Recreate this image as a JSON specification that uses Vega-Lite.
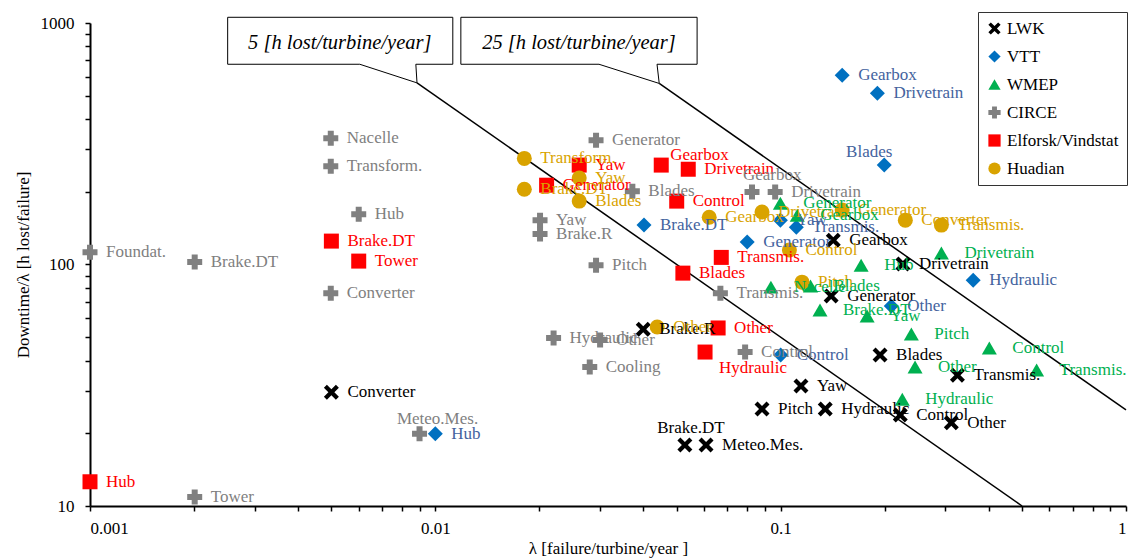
{
  "$schema": "https://vega.github.io/schema/vega-lite/v6.json",
  "width": 1036,
  "height": 483,
  "autosize": {"type": "none"},
  "padding": {"left": 90, "top": 23, "right": 21, "bottom": 52},
  "background": "white",
  "config": {
    "view": {"stroke": null},
    "font": "Liberation Serif",
    "axis": {
      "labelFont": "Liberation Serif", "labelFontSize": 17, "labelColor": "black",
      "titleFont": "Liberation Serif", "titleFontSize": 17, "titleFontWeight": "normal", "titleColor": "black",
      "domainColor": "black", "domainWidth": 2, "tickColor": "black", "tickWidth": 1.5, "tickSize": 5, "grid": false
    }
  },
  "datasets": {
    "pts": [
      {"s": "LWK", "c": "Converter", "x": 0.005, "y": 29.6},
      {"s": "LWK", "c": "Brake.R", "x": 0.040, "y": 54},
      {"s": "LWK", "c": "Brake.DT", "x": 0.0528, "y": 17.9},
      {"s": "LWK", "c": "Meteo.Mes.", "x": 0.0608, "y": 17.9},
      {"s": "LWK", "c": "Pitch", "x": 0.0883, "y": 25.2},
      {"s": "LWK", "c": "Yaw", "x": 0.1145, "y": 31.4},
      {"s": "LWK", "c": "Hydraulic", "x": 0.1346, "y": 25.2},
      {"s": "LWK", "c": "Control", "x": 0.222, "y": 23.8},
      {"s": "LWK", "c": "Other", "x": 0.312, "y": 22.1},
      {"s": "LWK", "c": "Transmis.", "x": 0.325, "y": 34.8},
      {"s": "LWK", "c": "Blades", "x": 0.194, "y": 42.2},
      {"s": "LWK", "c": "Generator", "x": 0.140, "y": 74},
      {"s": "LWK", "c": "Gearbox", "x": 0.142, "y": 126},
      {"s": "LWK", "c": "Drivetrain", "x": 0.226, "y": 100.4},
      {"s": "VTT", "c": "Gearbox", "x": 0.1507, "y": 608},
      {"s": "VTT", "c": "Drivetrain", "x": 0.1906, "y": 512},
      {"s": "VTT", "c": "Blades", "x": 0.1995, "y": 258},
      {"s": "VTT", "c": "Brake.DT", "x": 0.0402, "y": 145.6},
      {"s": "VTT", "c": "Generator", "x": 0.080, "y": 123.8},
      {"s": "VTT", "c": "Yaw", "x": 0.0998, "y": 152.6},
      {"s": "VTT", "c": "Transmis.", "x": 0.111, "y": 142.8},
      {"s": "VTT", "c": "Other", "x": 0.209, "y": 67.3},
      {"s": "VTT", "c": "Control", "x": 0.1, "y": 42.2},
      {"s": "VTT", "c": "Hydraulic", "x": 0.361, "y": 86.1},
      {"s": "VTT", "c": "Hub", "x": 0.01, "y": 19.9},
      {"s": "WMEP", "c": "Generator", "x": 0.0998, "y": 179.5},
      {"s": "WMEP", "c": "Gearbox", "x": 0.1117, "y": 160},
      {"s": "WMEP", "c": "Drivetrain", "x": 0.292, "y": 111.5},
      {"s": "WMEP", "c": "Hub", "x": 0.171, "y": 99.4},
      {"s": "WMEP", "c": "Nacelle", "x": 0.0937, "y": 80.6},
      {"s": "WMEP", "c": "Blades", "x": 0.122, "y": 81.4},
      {"s": "WMEP", "c": "Brake.DT", "x": 0.130, "y": 64.8},
      {"s": "WMEP", "c": "Yaw", "x": 0.178, "y": 61.2},
      {"s": "WMEP", "c": "Pitch", "x": 0.239, "y": 51.5},
      {"s": "WMEP", "c": "Control", "x": 0.402, "y": 45.1},
      {"s": "WMEP", "c": "Other", "x": 0.245, "y": 37.6},
      {"s": "WMEP", "c": "Transmis.", "x": 0.551, "y": 36.6},
      {"s": "WMEP", "c": "Hydraulic", "x": 0.225, "y": 27.7},
      {"s": "CIRCE", "c": "Foundat.", "x": 0.001, "y": 112.5},
      {"s": "CIRCE", "c": "Brake.DT", "x": 0.00201, "y": 102.3},
      {"s": "CIRCE", "c": "Nacelle", "x": 0.00498, "y": 333},
      {"s": "CIRCE", "c": "Transform.", "x": 0.00498, "y": 255},
      {"s": "CIRCE", "c": "Hub", "x": 0.006, "y": 161.6},
      {"s": "CIRCE", "c": "Converter", "x": 0.00498, "y": 76},
      {"s": "CIRCE", "c": "Tower", "x": 0.00201, "y": 10.9},
      {"s": "CIRCE", "c": "Meteo.Mes.", "x": 0.009, "y": 19.9},
      {"s": "CIRCE", "c": "Generator", "x": 0.0292, "y": 327},
      {"s": "CIRCE", "c": "Yaw", "x": 0.0201, "y": 152.6},
      {"s": "CIRCE", "c": "Brake.R", "x": 0.0201, "y": 133.6},
      {"s": "CIRCE", "c": "Pitch", "x": 0.0292, "y": 99.4},
      {"s": "CIRCE", "c": "Blades", "x": 0.0372, "y": 201},
      {"s": "CIRCE", "c": "Gearbox", "x": 0.0826, "y": 199.5},
      {"s": "CIRCE", "c": "Drivetrain", "x": 0.0964, "y": 199.5},
      {"s": "CIRCE", "c": "Transmis.", "x": 0.0669, "y": 76},
      {"s": "CIRCE", "c": "Control", "x": 0.0789, "y": 43.4},
      {"s": "CIRCE", "c": "Hydraulic", "x": 0.022, "y": 49.6},
      {"s": "CIRCE", "c": "Other", "x": 0.030, "y": 48.7},
      {"s": "CIRCE", "c": "Cooling", "x": 0.028, "y": 37.6},
      {"s": "Elforsk/Vindstat", "c": "Hub", "x": 0.001, "y": 12.6},
      {"s": "Elforsk/Vindstat", "c": "Brake.DT", "x": 0.005, "y": 125},
      {"s": "Elforsk/Vindstat", "c": "Tower", "x": 0.006, "y": 103.3},
      {"s": "Elforsk/Vindstat", "c": "Yaw", "x": 0.0261, "y": 258},
      {"s": "Elforsk/Vindstat", "c": "Generator", "x": 0.021, "y": 213},
      {"s": "Elforsk/Vindstat", "c": "Gearbox", "x": 0.0451, "y": 258},
      {"s": "Elforsk/Vindstat", "c": "Drivetrain", "x": 0.054, "y": 248},
      {"s": "Elforsk/Vindstat", "c": "Control", "x": 0.050, "y": 183},
      {"s": "Elforsk/Vindstat", "c": "Transmis.", "x": 0.0673, "y": 107},
      {"s": "Elforsk/Vindstat", "c": "Blades", "x": 0.0521, "y": 92.1},
      {"s": "Elforsk/Vindstat", "c": "Other", "x": 0.0659, "y": 54.6},
      {"s": "Elforsk/Vindstat", "c": "Hydraulic", "x": 0.0604, "y": 43.4},
      {"s": "Huadian", "c": "Transform.", "x": 0.0181, "y": 275},
      {"s": "Huadian", "c": "Brake.DT", "x": 0.0181, "y": 205},
      {"s": "Huadian", "c": "Yaw", "x": 0.0261, "y": 228},
      {"s": "Huadian", "c": "Blades", "x": 0.0261, "y": 183},
      {"s": "Huadian", "c": "Gearbox", "x": 0.0621, "y": 157},
      {"s": "Huadian", "c": "Drivetrain", "x": 0.0883, "y": 165},
      {"s": "Huadian", "c": "Generator", "x": 0.1507, "y": 168},
      {"s": "Huadian", "c": "Converter", "x": 0.2296, "y": 152.6},
      {"s": "Huadian", "c": "Transmis.", "x": 0.292, "y": 145.6},
      {"s": "Huadian", "c": "Control", "x": 0.106, "y": 114.8},
      {"s": "Huadian", "c": "Pitch", "x": 0.1153, "y": 84.5},
      {"s": "Huadian", "c": "Other", "x": 0.0439, "y": 55.1}
    ],
    "iso": [
      {"id": "5", "x": 0.00885, "y": 565},
      {"id": "5", "x": 0.5, "y": 10},
      {"id": "25", "x": 0.0445, "y": 562},
      {"id": "25", "x": 1, "y": 25}
    ],
    "callout": [
      {"id": "5", "k": 1, "x": 0.002504, "y": 1056},
      {"id": "5", "k": 2, "x": 0.011236, "y": 1056},
      {"id": "5", "k": 3, "x": 0.011236, "y": 674.8},
      {"id": "5", "k": 4, "x": 0.008781, "y": 674.8},
      {"id": "5", "k": 5, "x": 0.00885, "y": 565},
      {"id": "5", "k": 6, "x": 0.006043, "y": 674.8},
      {"id": "5", "k": 7, "x": 0.002504, "y": 674.8},
      {"id": "5", "k": 8, "x": 0.002504, "y": 1056},
      {"id": "25", "k": 1, "x": 0.011855, "y": 1056},
      {"id": "25", "k": 2, "x": 0.05728, "y": 1056},
      {"id": "25", "k": 3, "x": 0.05728, "y": 674.8},
      {"id": "25", "k": 4, "x": 0.04385, "y": 674.8},
      {"id": "25", "k": 5, "x": 0.0445, "y": 562},
      {"id": "25", "k": 6, "x": 0.02978, "y": 674.8},
      {"id": "25", "k": 7, "x": 0.011855, "y": 674.8},
      {"id": "25", "k": 8, "x": 0.011855, "y": 1056}
    ],
    "ctext": [
      {"t": "5 [h lost/turbine/year]", "x": 0.005288, "y": 824},
      {"t": "25 [h lost/turbine/year]", "x": 0.02606, "y": 824}
    ]
  },
  "encoding": {
    "x": {"field": "x", "type": "quantitative",
      "scale": {"type": "log", "domain": [0.001, 1], "nice": false},
      "axis": {"title": "λ [failure/turbine/year ]", "titlePadding": 4, "labelPadding": 9,
        "values": [0.001,0.002,0.003,0.004,0.005,0.006,0.007,0.008,0.009,0.01,0.02,0.03,0.04,0.05,0.06,0.07,0.08,0.09,0.1,0.2,0.3,0.4,0.5,0.6,0.7,0.8,0.9,1],
        "labelExpr": "datum.value == 0.001 ? '0.001' : datum.value == 0.01 ? '0.01' : datum.value == 0.1 ? '0.1' : datum.value == 1 ? '1' : ''"}},
    "y": {"field": "y", "type": "quantitative",
      "scale": {"type": "log", "domain": [10, 1000], "nice": false},
      "axis": {"title": "Downtime/λ [h lost/failure]", "titlePadding": 8, "labelPadding": 11,
        "values": [10,20,30,40,50,60,70,80,90,100,200,300,400,500,600,700,800,900,1000],
        "labelExpr": "datum.value == 10 ? '10' : datum.value == 100 ? '100' : datum.value == 1000 ? '1000' : ''"}}
  },
  "layer": [
    {
      "data": {"name": "iso"},
      "mark": {"type": "line", "color": "black", "strokeWidth": 1.5},
      "encoding": {"detail": {"field": "id"}}
    },
    {
      "data": {"name": "callout"},
      "mark": {"type": "line", "color": "black", "strokeWidth": 1},
      "encoding": {"detail": {"field": "id"}, "order": {"field": "k", "type": "quantitative"}}
    },
    {
      "data": {"name": "ctext"},
      "mark": {"type": "text", "font": "Liberation Serif", "fontSize": 20.5, "fontStyle": "italic", "align": "center", "baseline": "middle", "color": "black"},
      "encoding": {"text": {"field": "t"}}
    },
    {
      "data": {"name": "pts"},
      "mark": {"type": "point", "filled": true, "opacity": 1, "size": 225, "strokeWidth": 0},
      "encoding": {
        "color": {"field": "s", "type": "nominal",
          "scale": {"domain": ["LWK", "VTT", "WMEP", "CIRCE", "Elforsk/Vindstat", "Huadian"],
                    "range": ["#000000", "#0070c0", "#00b050", "#808080", "#ff0000", "#d9a300"]},
          "legend": {"title": null, "orient": "none", "legendX": 888, "legendY": -11,
            "strokeColor": "#333333", "fillColor": "white", "padding": 8, "rowPadding": 10,
            "symbolSize": 150, "labelFont": "Liberation Serif", "labelFontSize": 17, "labelColor": "black",
            "labelOffset": 4, "labelExpr": "datum.label + '\u00a0\u00a0\u00a0\u00a0\u00a0'"}},
        "shape": {"field": "s", "type": "nominal",
          "scale": {"domain": ["LWK", "VTT", "WMEP", "CIRCE", "Elforsk/Vindstat", "Huadian"],
                    "range": ["M-1,-0.6L-0.6,-1L0,-0.4L0.6,-1L1,-0.6L0.4,0L1,0.6L0.6,1L0,0.4L-0.6,1L-1,0.6L-0.4,0Z", "diamond", "triangle-up", "cross", "square", "circle"]},
          "legend": {"title": null, "orient": "none", "legendX": 888, "legendY": -11,
            "strokeColor": "#333333", "fillColor": "white", "padding": 8, "rowPadding": 10,
            "symbolSize": 150, "labelFont": "Liberation Serif", "labelFontSize": 17, "labelColor": "black",
            "labelOffset": 4, "labelExpr": "datum.label + '\u00a0\u00a0\u00a0\u00a0\u00a0'"}}
      }
    },
    {
      "data": {"name": "pts"},
      "transform": [{"filter": "datum.s != 'WMEP' && !((datum.s=='LWK'&&datum.c=='Brake.DT')||(datum.s=='CIRCE'&&datum.c=='Meteo.Mes.')||(datum.s=='VTT'&&datum.c=='Blades')||(datum.s=='Elforsk/Vindstat'&&datum.c=='Gearbox')||(datum.s=='CIRCE'&&datum.c=='Gearbox')||(datum.s=='Elforsk/Vindstat'&&datum.c=='Hydraulic'))"}],
      "mark": {"type": "text", "font": "Liberation Serif", "fontSize": 17, "align": "left", "baseline": "middle", "dx": 16},
      "encoding": {"text": {"field": "c"},
        "fill": {"field": "s", "type": "nominal", "legend": null,
          "scale": {"domain": ["LWK", "VTT", "WMEP", "CIRCE", "Elforsk/Vindstat", "Huadian"],
                    "range": ["#000000", "#44639e", "#00b050", "#7f7f7f", "#ff0000", "#d9a300"]}}}
    },
    {
      "data": {"name": "pts"},
      "transform": [{"filter": "datum.s == 'WMEP'"}],
      "mark": {"type": "text", "font": "Liberation Serif", "fontSize": 17, "align": "left", "baseline": "middle", "dx": 23, "color": "#00b050"},
      "encoding": {"text": {"field": "c"}}
    },
    {
      "data": {"name": "pts"},
      "transform": [{"filter": "datum.s=='LWK'&&datum.c=='Brake.DT'"}],
      "mark": {"type": "text", "font": "Liberation Serif", "fontSize": 17, "align": "center", "baseline": "middle", "dx": 6, "dy": -17, "color": "black"},
      "encoding": {"text": {"field": "c"}}
    },
    {
      "data": {"name": "pts"},
      "transform": [{"filter": "datum.s=='CIRCE'&&datum.c=='Meteo.Mes.'"}],
      "mark": {"type": "text", "font": "Liberation Serif", "fontSize": 17, "align": "center", "baseline": "middle", "dx": 18, "dy": -15, "color": "#7f7f7f"},
      "encoding": {"text": {"field": "c"}}
    },
    {
      "data": {"name": "pts"},
      "transform": [{"filter": "datum.s=='VTT'&&datum.c=='Blades'"}],
      "mark": {"type": "text", "font": "Liberation Serif", "fontSize": 17, "align": "center", "baseline": "middle", "dx": -15, "dy": -13, "color": "#44639e"},
      "encoding": {"text": {"field": "c"}}
    },
    {
      "data": {"name": "pts"},
      "transform": [{"filter": "datum.s=='Elforsk/Vindstat'&&datum.c=='Gearbox'"}],
      "mark": {"type": "text", "font": "Liberation Serif", "fontSize": 17, "align": "left", "baseline": "middle", "dx": 9, "dy": -10, "color": "#ff0000"},
      "encoding": {"text": {"field": "c"}}
    },
    {
      "data": {"name": "pts"},
      "transform": [{"filter": "datum.s=='CIRCE'&&datum.c=='Gearbox'"}],
      "mark": {"type": "text", "font": "Liberation Serif", "fontSize": 17, "align": "left", "baseline": "middle", "dx": -9, "dy": -17, "color": "#7f7f7f"},
      "encoding": {"text": {"field": "c"}}
    },
    {
      "data": {"name": "pts"},
      "transform": [{"filter": "datum.s=='Elforsk/Vindstat'&&datum.c=='Hydraulic'"}],
      "mark": {"type": "text", "font": "Liberation Serif", "fontSize": 17, "align": "left", "baseline": "middle", "dx": 14, "dy": 16, "color": "#ff0000"},
      "encoding": {"text": {"field": "c"}}
    }
  ]
}
